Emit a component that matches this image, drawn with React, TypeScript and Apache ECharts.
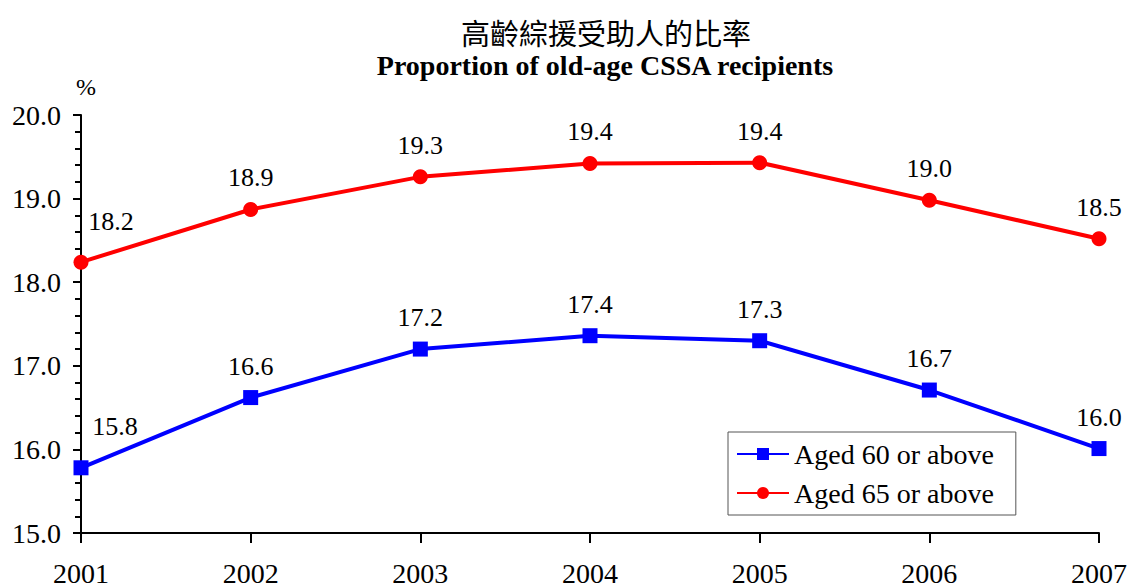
import React, { useEffect, useRef } from "react";
import * as echarts from "echarts";

const years = ["2001", "2002", "2003", "2004", "2005", "2006", "2007"];
const aged60 = [15.78, 16.62, 17.2, 17.36, 17.3, 16.71, 16.01];
const aged65 = [18.24, 18.87, 19.26, 19.42, 19.43, 18.98, 18.52];
const seriesNames = ["Aged 60 or above", "Aged 65 or above"];
const titleZh = "高齡綜援受助人的比率";
const titleEn = "Proportion of old-age CSSA recipients";

const serif = "Liberation Serif";

export default function App() {
  const ref = useRef<HTMLDivElement>(null);
  useEffect(() => {
    const chart = echarts.init(ref.current!, null, { renderer: "svg" });
    const mkData = (arr: number[], firstOffset: number[]) =>
      arr.map((v, i) =>
        i === 0 ? { value: v, label: { offset: firstOffset } } : { value: v }
      );
    const labelStyle = {
      show: true,
      position: "top",
      distance: 11,
      fontFamily: serif,
      fontSize: 26,
      fontWeight: "normal",
      color: "#000",
      formatter: (p: any) => Number(p.value).toFixed(1),
    };
    chart.setOption({
      animation: false,
      backgroundColor: "#fff",
      textStyle: { fontFamily: serif },
      title: [
        {
          text: titleZh,
          left: 606,
          top: 17,
          padding: 0,
          textAlign: "center",
          textStyle: { fontFamily: "Noto Sans CJK TC", fontSize: 29, fontWeight: "normal", color: "#000" },
        },
        {
          text: titleEn,
          left: 605,
          top: 51,
          padding: 0,
          textAlign: "center",
          textStyle: { fontFamily: serif, fontSize: 28, fontWeight: "bold", color: "#000" },
        },
        {
          text: "%",
          left: 76,
          top: 75,
          padding: 0,
          textStyle: { fontFamily: serif, fontSize: 24, fontWeight: "normal", color: "#000" },
        },
      ],
      grid: { left: 81, right: 29, top: 115, bottom: 52, containLabel: false, outerBoundsMode: "none" },
      legend: {
        orient: "vertical",
        left: 728,
        top: 432,
        data: seriesNames,
        backgroundColor: "#fff",
        borderColor: "#555",
        borderWidth: 1,
        padding: [8, 22, 8, 8],
        itemGap: 11,
        itemWidth: 52,
        itemHeight: 15,
        textStyle: { fontFamily: serif, fontSize: 28, fontWeight: "normal", color: "#000" },
      },
      xAxis: {
        type: "category",
        data: years,
        boundaryGap: false,
        axisLine: { lineStyle: { color: "#000", width: 2 } },
        axisTick: { show: true, length: 10, lineStyle: { color: "#000", width: 2 } },
        axisLabel: { fontFamily: serif, fontSize: 28, fontWeight: "normal", color: "#000", margin: 26 },
        splitLine: { show: false },
      },
      yAxis: {
        type: "value",
        min: 15,
        max: 20,
        interval: 1,
        axisLine: { show: true, lineStyle: { color: "#000", width: 2 } },
        axisTick: { show: true, length: 8, lineStyle: { color: "#000", width: 2 } },
        minorTick: { show: true, splitNumber: 5, length: 6, lineStyle: { color: "#000", width: 2 } },
        axisLabel: {
          fontFamily: serif,
          fontSize: 28,
          fontWeight: "normal",
          color: "#000",
          margin: 20,
          formatter: (v: number) => v.toFixed(1),
        },
        splitLine: { show: false },
      },
      series: [
        {
          name: seriesNames[0],
          type: "line",
          data: mkData(aged60, [34, -10]),
          symbol: "rect",
          symbolSize: 15,
          itemStyle: { color: "#0000ff" },
          lineStyle: { color: "#0000ff", width: 4 },
          label: labelStyle,
        },
        {
          name: seriesNames[1],
          type: "line",
          data: mkData(aged65, [30, -9]),
          symbol: "circle",
          symbolSize: 15,
          itemStyle: { color: "#ff0000" },
          lineStyle: { color: "#ff0000", width: 4 },
          label: labelStyle,
        },
      ],
    });
    return () => chart.dispose();
  }, []);
  return (
    <div
      ref={ref}
      style={{ position: "fixed", left: 0, top: 0, width: 1128, height: 585 }}
    />
  );
}
